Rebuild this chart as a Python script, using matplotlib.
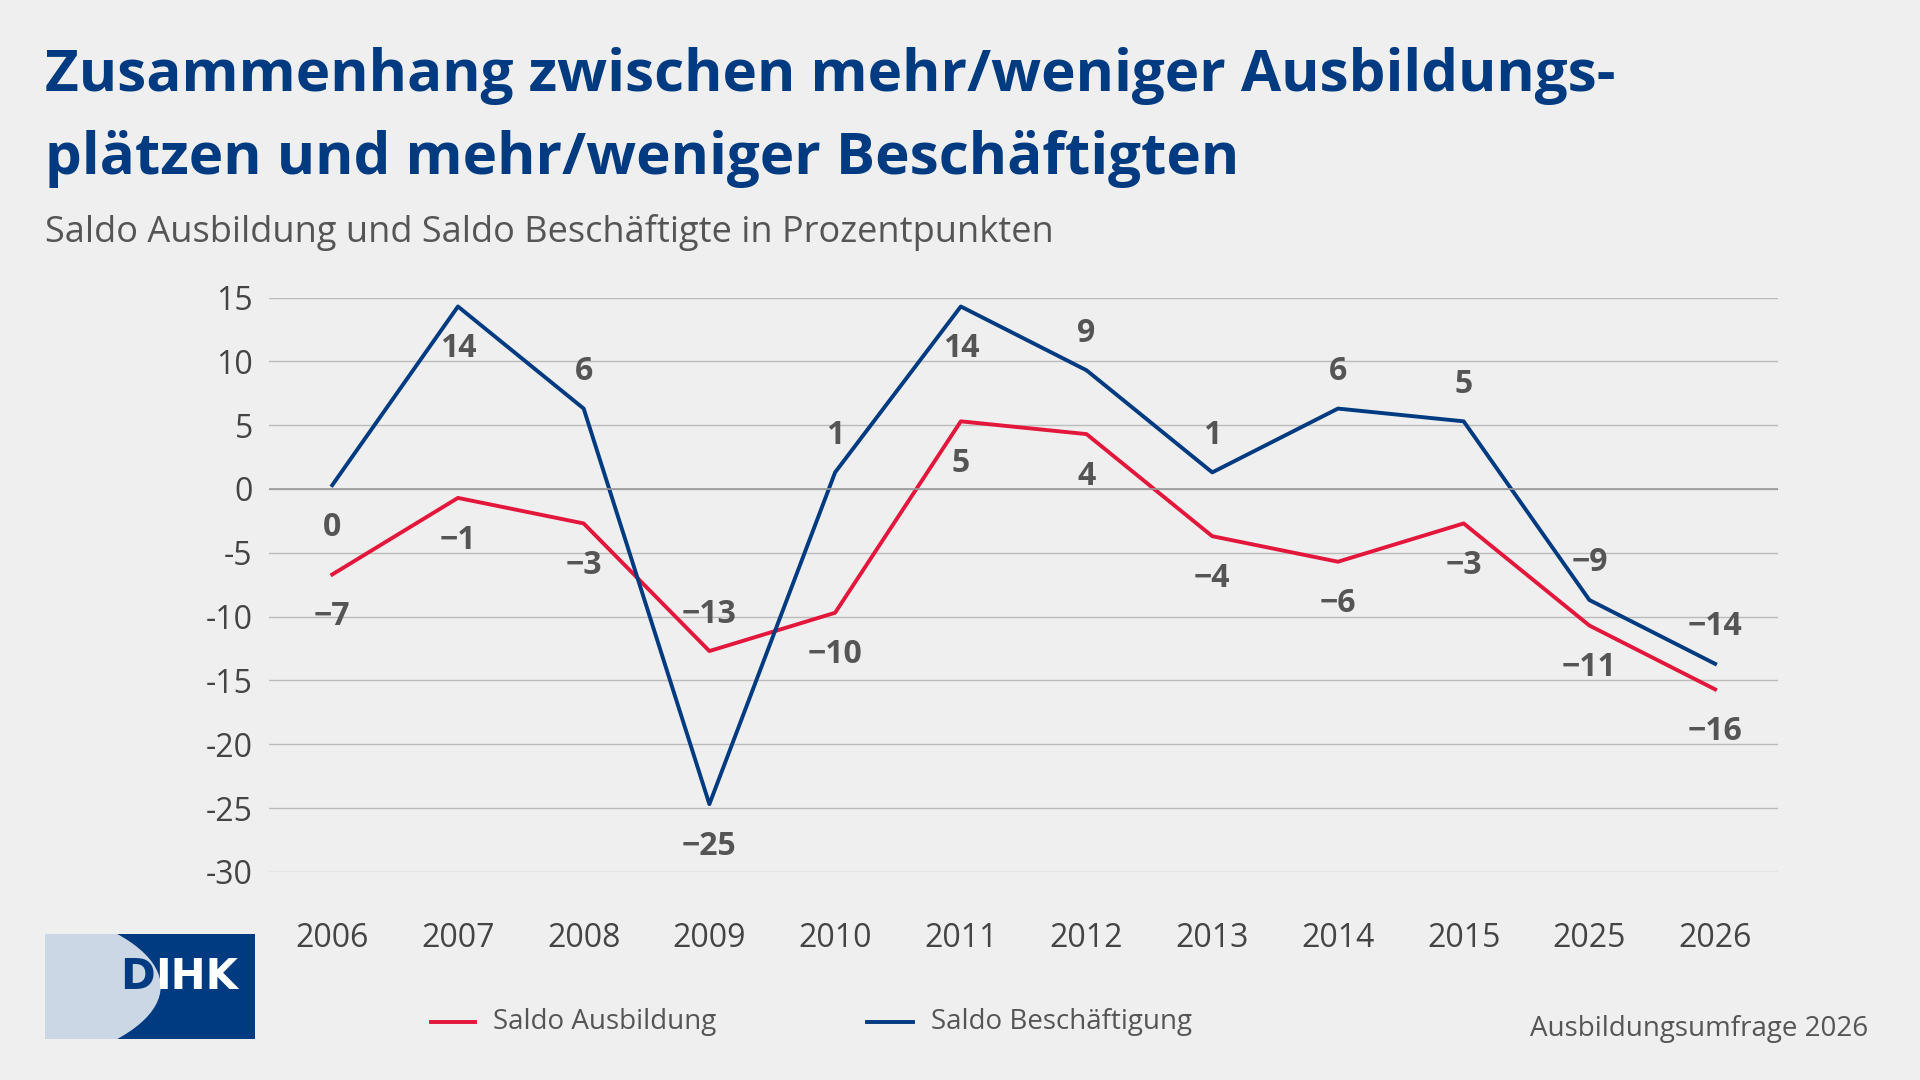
import matplotlib
matplotlib.use("Agg")
import matplotlib.pyplot as plt
from matplotlib.patches import Rectangle, Ellipse

years = ["2006","2007","2008","2009","2010","2011","2012","2013","2014","2015","2025","2026"]
ausbildung = [-6.7,-0.7,-2.7,-12.7,-9.7,5.3,4.3,-3.7,-5.7,-2.7,-10.7,-15.7]
beschaeftigung = [0.3,14.3,6.3,-24.7,1.3,14.3,9.3,1.3,6.3,5.3,-8.7,-13.7]
aus_labels = ["-7","-1","-3","-13","-10","5","4","-4","-6","-3","-11","-16"]
bes_labels = ["0","14","6","-25","1","14","9","1","6","5","-9","-14"]
aus_pos = ["b","b","b","a","b","b","b","b","b","b","b","b"]
bes_pos = ["b","b","a","b","a","b","a","a","a","a","a","a"]

plt.rcParams['font.family'] = ['Open Sans', 'DejaVu Sans']
BG = "#efefef"; NAVY = "#003a80"; RED = "#e3163c"; GREY = "#555555"
fig = plt.figure(figsize=(19.2, 10.8), dpi=100, facecolor=BG)
W, H = 1568, 882
ax = fig.add_axes([220/W, 1-712/H, (1452-220)/W, (712-243)/H], facecolor=BG)
x = range(len(years))
ax.plot(x, ausbildung, color=RED, lw=2.8)
ax.plot(x, beschaeftigung, color=NAVY, lw=2.8)
for i in x:
    for vals, labs, pos in ((ausbildung, aus_labels, aus_pos), (beschaeftigung, bes_labels, bes_pos)):
        y = vals[i] + (2.9 if pos[i] == "a" else -3.3)
        ax.text(i, y, labs[i].replace("-", "\u2212"), ha="center", va="center",
                fontsize=23, fontweight="bold", color=GREY)
ax.set_xlim(-0.5, 11.5); ax.set_ylim(-30, 15)
ax.set_yticks(range(-30, 16, 5))
ax.set_yticklabels([str(v) for v in range(-30, 16, 5)])
ax.set_xticks(list(x)); ax.set_xticklabels(years)
ax.tick_params(length=0, labelsize=23, labelcolor="#444444", pad=12)
ax.tick_params(axis="x", pad=36)
ax.grid(axis="y", color="#bbbbbb", lw=1)
ax.axhline(0, color="#999999", lw=1.2)
for s in ax.spines.values(): s.set_visible(False)

fig.text(37/W, 1-62/H, "Zusammenhang zwischen mehr/weniger Ausbildungs-", fontsize=42, fontweight="bold", color=NAVY, va="center")
fig.text(37/W, 1-130/H, "plätzen und mehr/weniger Beschäftigten", fontsize=42, fontweight="bold", color=NAVY, va="center")
fig.text(37/W, 1-190/H, "Saldo Ausbildung und Saldo Beschäftigte in Prozentpunkten", fontsize=26, color=GREY, va="center")

# legend
fig.add_artist(plt.Line2D([352/W, 388/W], [1-835/H]*2, color=RED, lw=2.8))
fig.text(403/W, 1-835/H, "Saldo Ausbildung", fontsize=20, color=GREY, va="center")
fig.add_artist(plt.Line2D([708/W, 746/W], [1-835/H]*2, color=NAVY, lw=2.8))
fig.text(760/W, 1-835/H, "Saldo Beschäftigung", fontsize=20, color=GREY, va="center")
fig.text(1526/W, 1-840/H, "Ausbildungsumfrage 2026", fontsize=20, color=GREY, va="center", ha="right")

# logo
lax = fig.add_axes([45/1920, 1-1039/1080, 210/1920, 105/1080])
lax.set_xlim(0, 210); lax.set_ylim(0, 105); lax.axis("off")
lax.add_patch(Rectangle((0, 0), 210, 105, color=NAVY))
lax.add_patch(Ellipse((-150, 52.5), 2*265, 2*95, color="#cbd7e5"))
lax.text(110, 62, "D", fontsize=30, fontweight="bold", color=NAVY, ha="right", va="center", family="DejaVu Sans")
lax.text(110, 62, "IHK", fontsize=30, fontweight="bold", color="white", ha="left", va="center", family="DejaVu Sans")
fig.savefig("out.png", dpi=100, facecolor=BG)
